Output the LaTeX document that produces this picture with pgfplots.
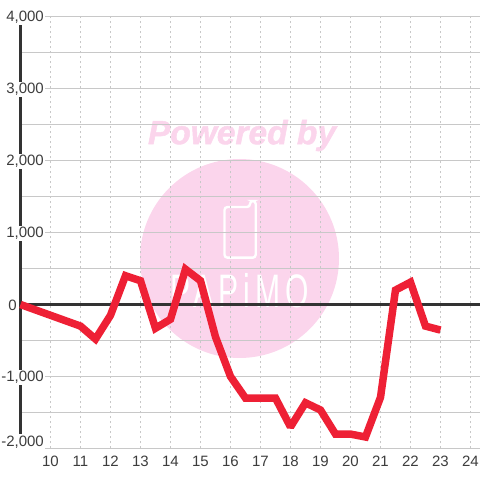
\documentclass[border=0pt]{standalone}
\usepackage{pgfplots}
\pgfplotsset{compat=1.18}
\usepackage{fontspec}
\setmainfont{Liberation Sans}
\newfontfamily\pwfont[FakeBold=1.5]{Liberation Sans}
\definecolor{wm}{HTML}{FBD5EC}
\definecolor{gridc}{HTML}{C8C8C8}
\definecolor{axc}{HTML}{333333}
\definecolor{linec}{HTML}{EE2035}
\begin{document}
\begin{tikzpicture}
\path[use as bounding box] (0pt,0pt) rectangle (480pt,480pt);
% watermark (picture coordinates: y up, 480 - pixel row)
\fill[wm] (239.5pt,221.5pt) circle (99.5pt);
\node[text=wm,font=\pwfont\bfseries\itshape\fontsize{33.5}{34}\selectfont,inner sep=0] at (242pt,344.5pt) {Powered by};
\draw[white,line width=2.4pt,rounded corners=3pt] (224.5pt,222.3pt) -- (224.5pt,273pt) -- (250pt,273pt) -- (250pt,279pt) -- (255.7pt,279pt) -- (255.7pt,222.3pt) -- cycle;
\node[text=white,font=\fontsize{47}{47}\selectfont,inner sep=0,xscale=0.64] at (239.5pt,189pt) {\addfontfeature{LetterSpace=17}PAPiMO};
\begin{axis}[
  at={(20.5pt,31.5pt)}, anchor=south west,
  scale only axis, width=459.5pt, height=432pt,
  xmin=9, xmax=24.317, ymin=-2000, ymax=4000,
  clip=false,
  axis y line*=left, axis x line*=bottom,
  y axis line style={draw=axc,line width=3pt,-},
  x axis line style={draw=none,-},
  xtick={10,...,24},
  ytick={-1000,1000,2000,3000,4000},
  yticklabels={-1{,}000,1{,}000,2{,}000,3{,}000,4{,}000},
  minor ytick={-2000,-1500,-500,500,1500,2500,3500},
  extra y ticks={0}, extra y tick labels={0},
  extra y tick style={yticklabel style={fill=none,xshift=-27pt}},
  major tick length=0pt, minor tick length=0pt,
  xmajorgrids, ymajorgrids, yminorgrids,
  major x grid style={draw=gridc,line width=1pt,dash pattern=on 2.5pt off 2.5pt},
  major y grid style={draw=gridc,line width=1pt},
  minor y grid style={draw=gridc,line width=1pt},
  tick label style={font=\fontsize{15}{15}\selectfont,text=axc!95!white},
  yticklabel style={anchor=east,fill=white,inner xsep=1.5pt,inner ysep=1.5pt,xshift=25pt,yshift=-1pt},
  xticklabel style={anchor=north,yshift=-4pt},
  /pgf/number format/assume math mode=true,
]
\addplot[axc,line width=3pt,forget plot] coordinates {(9,0) (24.317,0)};
\addplot[linec,line width=7.5pt,line join=miter,miter limit=2] coordinates {
(9,0) (11,-300) (11.5,-480) (12,-150) (12.5,400) (13,330) (13.5,-330) (14,-205)
(14.5,490) (15,330) (15.5,-450) (16,-1000) (16.5,-1300) (17,-1300) (17.5,-1300)
(18,-1700) (18.5,-1365) (19,-1465) (19.5,-1800) (20,-1800) (20.5,-1840) (21,-1290)
(21.5,200) (22,310) (22.5,-300) (23,-355)};
\node[anchor=east,fill=white,inner xsep=1.5pt,inner ysep=1.5pt,font=\fontsize{15}{15}\selectfont,text=axc!95!white] at (axis cs:9,-1910) [xshift=25pt] {-2,000};
\end{axis}
\end{tikzpicture}
\end{document}
